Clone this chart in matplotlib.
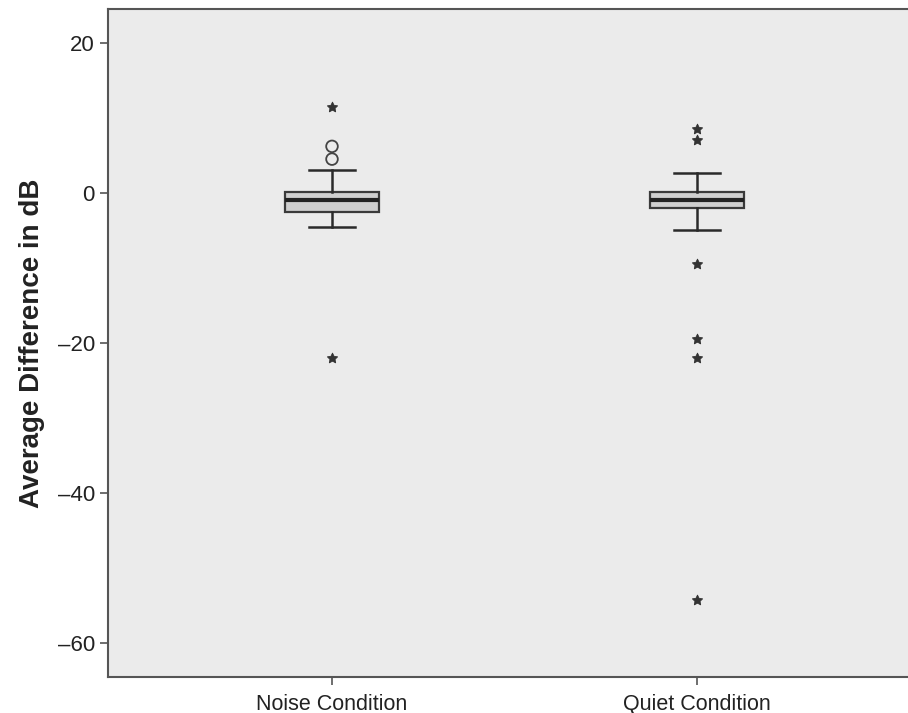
import matplotlib
matplotlib.use('Agg')
import matplotlib.pyplot as plt

# 数据
categories = ['Noise Condition', 'Quiet Condition']
q1 = [-2.6, -2.0]
median = [-0.9, -0.9]
q3 = [0.1, 0.1]
whisker_low = [-4.5, -5.0]
whisker_high = [3.1, 2.6]
# 离群值（圆圈）和极端值（星号）
outliers_circle = [[6.2, 4.5], []]
outliers_star = [[11.5, -22.0], [8.5, 7.0, -9.5, -19.5, -22.0, -54.3]]
yticks = [20, 0, -20, -40, -60]

plt.rcParams['font.family'] = ['Liberation Sans', 'DejaVu Sans']

fig = plt.figure(figsize=(9.08, 7.13), dpi=100)
ax = fig.add_axes([108 / 908, 1 - 677 / 713, 1 - 108 / 908, (677 - 9) / 713])
ax.set_facecolor('#ebebeb')

positions = [1, 2]
stats = []
for i, name in enumerate(categories):
    stats.append({'label': name, 'med': median[i], 'q1': q1[i], 'q3': q3[i],
                  'whislo': whisker_low[i], 'whishi': whisker_high[i], 'fliers': []})

ax.bxp(stats, positions=positions, widths=0.255, patch_artist=True, showfliers=False,
       boxprops=dict(facecolor='#cfcfcf', edgecolor='#3a3a3a', linewidth=1.6),
       medianprops=dict(color='#222222', linewidth=3),
       whiskerprops=dict(color='#2a2a2a', linewidth=1.8),
       capprops=dict(color='#2a2a2a', linewidth=1.8),
       capwidths=0.125)

for i, pos in enumerate(positions):
    if outliers_circle[i]:
        ax.scatter([pos] * len(outliers_circle[i]), outliers_circle[i], marker='o', s=70,
                   facecolors='none', edgecolors='#444444', linewidths=1.3, zorder=3)
    if outliers_star[i]:
        ax.scatter([pos] * len(outliers_star[i]), outliers_star[i], marker=(5, 1, 0), s=60,
                   color='#333333', linewidths=0.6, zorder=3)

# 像素 -> 数据：两组间距 365 px，轴宽 800 px
x_left = 1 - 224 / 365
ax.set_xlim(x_left, x_left + 800 / 365)
ax.set_ylim(-64.5, 24.5)
ax.set_yticks(yticks)
ax.set_yticklabels([str(t).replace('-', '\u2013') for t in yticks])
ax.set_xticks(positions)
ax.set_xticklabels(categories)

for s in ['left', 'bottom', 'top']:
    ax.spines[s].set_color('#555555')
    ax.spines[s].set_linewidth(1.5)
ax.spines['right'].set_visible(False)

ax.tick_params(axis='both', colors='#555555', length=6, width=1.2, labelcolor='#222222')
ax.tick_params(axis='y', labelsize=16)
ax.tick_params(axis='x', labelsize=15.5, pad=6)
ax.set_ylabel('Average Difference in dB', fontsize=20, fontweight='bold', color='#222222', labelpad=9)

plt.savefig('out.png', dpi=100, facecolor='white')
